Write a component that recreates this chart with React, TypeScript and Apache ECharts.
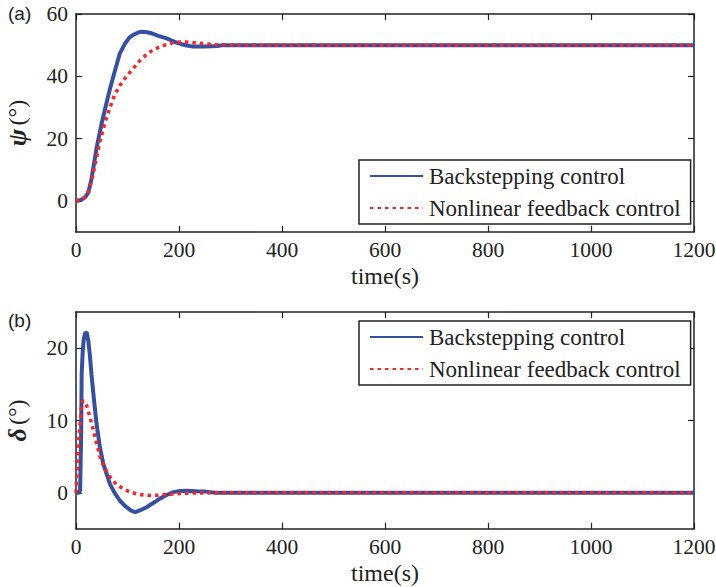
import React, { useEffect, useRef } from "react";
import * as echarts from "echarts";

const xTicks = [0, 200, 400, 600, 800, 1000, 1200];
const psiTicks = [0, 20, 40, 60];
const deltaTicks = [0, 10, 20];

const psiBackT = [0, 10, 18, 24, 30, 40, 50, 60, 66, 76, 85, 95, 104, 111, 120, 127, 135, 147, 160, 176, 186, 195, 205, 215, 225, 250, 275, 285, 300, 1200];
const psiBackV = [0, 0.3, 1.2, 2.7, 7, 17, 25, 32, 36, 42, 47.3, 50.5, 52.5, 53.3, 54, 54.3, 54.2, 53.8, 53, 52.2, 51.5, 50.8, 50.3, 49.9, 49.6, 49.6, 49.7, 50, 50, 50];

const psiNfT = [0, 10, 20, 27, 35, 47, 56, 66, 75, 85, 98, 111, 124, 137, 150, 163, 176, 189, 202, 215, 240, 270, 300, 1200];
const psiNfV = [0, 0.2, 1.5, 4.3, 10, 19.4, 25, 30, 34, 37, 40, 42.5, 45, 47, 48.5, 49.5, 50.2, 50.8, 51, 51, 50.6, 50.2, 50, 50];

const deltaBackT = [0, 5, 8, 10, 11, 13, 15, 17.5, 20.7, 24, 27, 30, 35, 40, 46, 53, 60, 66, 75, 85, 95, 102, 108, 115, 125, 137, 150, 163, 176, 189, 202, 215, 234, 250, 260, 270, 1200];
const deltaBackV = [0, 0, 0.3, 8, 16.4, 19.5, 21.2, 22, 22.2, 21, 19, 16.4, 12.8, 9.5, 6.5, 4, 2.5, 1.2, 0, -1.06, -1.8, -2.2, -2.5, -2.67, -2.4, -2, -1.4, -0.8, -0.3, 0.1, 0.25, 0.3, 0.23, 0.2, 0.1, 0, 0];

const deltaNfT = [0, 3, 6, 8, 10, 13, 17, 21, 27, 34, 40, 47, 55, 66, 78, 92, 105, 118, 131, 144, 160, 176, 195, 215, 240, 270, 1200];
const deltaNfV = [0, 4, 8, 9.5, 11.5, 12.7, 12.6, 12, 10.5, 8.6, 6.8, 4.9, 3.5, 2.2, 1.2, 0.55, 0.1, -0.14, -0.3, -0.37, -0.33, -0.23, -0.12, -0.05, -0.02, 0, 0];

const names = ["Backstepping control", "Nonlinear feedback control"];

const zip = (t: number[], v: number[]) => t.map((x, i) => [x, v[i]]);

const FONT = "Liberation Serif";
const BLUE = "#3550a2";
const RED = "#ff2222";

export default function App() {
  const ref = useRef<HTMLDivElement>(null);
  useEffect(() => {
    const chart = echarts.init(ref.current!, undefined, { renderer: "svg" });
    const axisLine = { show: true, onZero: false, lineStyle: { color: "#222", width: 1.5 } };
    const tickStyle = { inside: true, length: 6, lineStyle: { color: "#222", width: 1.2 } };
    const labelStyle = { fontFamily: FONT, fontSize: 21.5, color: "#222", formatter: (v: number) => String(v) };
    const xAxisFor = (gi: number) => [
      {
        type: "value", gridIndex: gi, min: 0, max: 1200, interval: 200, position: "bottom",
        axisLine, splitLine: { show: false },
        axisTick: { ...tickStyle, customValues: xTicks },
        axisLabel: { ...labelStyle, margin: 7, customValues: xTicks },
        name: "time(s)", nameLocation: "middle", nameGap: 32,
        nameTextStyle: { fontFamily: FONT, fontSize: 24, color: "#222" },
      },
      {
        type: "value", gridIndex: gi, min: 0, max: 1200, interval: 200, position: "top",
        axisLine, splitLine: { show: false },
        axisTick: { ...tickStyle, customValues: xTicks },
        axisLabel: { show: false },
      },
    ];
    const yAxisFor = (gi: number, min: number, max: number, ticks: number[], sym: string) => [
      {
        type: "value", gridIndex: gi, min, max, position: "left",
        axisLine, splitLine: { show: false },
        axisTick: { ...tickStyle, customValues: ticks },
        axisLabel: { ...labelStyle, margin: 8, customValues: ticks },
        name: `{g|${sym}} {n|(°)}`, nameLocation: "middle", nameGap: 46, nameRotate: 90,
        nameTextStyle: {
          rich: {
            g: { fontFamily: FONT, fontSize: 26, fontWeight: "bold", fontStyle: "italic", color: "#222" },
            n: { fontFamily: FONT, fontSize: 24, color: "#222" },
          },
        },
      },
      {
        type: "value", gridIndex: gi, min, max, position: "right",
        axisLine, splitLine: { show: false },
        axisTick: { ...tickStyle, customValues: ticks },
        axisLabel: { show: false },
      },
    ];
    const blueLine = { color: BLUE, width: 4 };
    const redLine = { color: RED, width: 3.5, type: [3.5, 4], cap: "butt" };
    const mk = (name: string, xi: number, yi: number, data: number[][], ls: any, color: string) => ({
      type: "line", name, xAxisIndex: xi, yAxisIndex: yi, data,
      showSymbol: false, symbol: "none", lineStyle: ls, itemStyle: { color }, color,
    });
    const legendFor = (top: number) => ({
      orient: "vertical", left: 359, top,
      data: names,
      itemWidth: 53, itemHeight: 14, itemGap: 6,
      padding: [3, 10, 3, 10],
      itemStyle: { opacity: 0 },
      borderColor: "#222", borderWidth: 1.5, borderRadius: 0, backgroundColor: "#fff",
      textStyle: { fontFamily: FONT, fontSize: 23, color: "#222", lineHeight: 26, padding: [0, 0, 0, 1] },
    });
    chart.setOption({
      animation: false,
      backgroundColor: "#fff",
      grid: [
        { left: 76, top: 14, width: 618, height: 218, outerBoundsMode: "none", containLabel: false },
        { left: 76, top: 312, width: 618, height: 217, outerBoundsMode: "none", containLabel: false },
      ],
      xAxis: [...xAxisFor(0), ...xAxisFor(1)],
      yAxis: [...yAxisFor(0, -10, 60, psiTicks, "ψ"), ...yAxisFor(1, -5, 25, deltaTicks, "δ")],
      legend: [legendFor(160), legendFor(321)],
      graphic: [
        { type: "text", left: 8, top: 4, style: { text: "(a)", fontFamily: "Liberation Sans", fontSize: 19, fill: "#222" } },
        { type: "text", left: 8, top: 311, style: { text: "(b)", fontFamily: "Liberation Sans", fontSize: 19, fill: "#222" } },
      ],
      series: [
        mk(names[0], 0, 0, zip(psiBackT, psiBackV), blueLine, BLUE),
        mk(names[1], 0, 0, zip(psiNfT, psiNfV), redLine, RED),
        mk(names[0], 2, 2, zip(deltaBackT, deltaBackV), blueLine, BLUE),
        mk(names[1], 2, 2, zip(deltaNfT, deltaNfV), redLine, RED),
      ],
    });
    return () => chart.dispose();
  }, []);
  return <div ref={ref} style={{ width: 716, height: 587, position: "absolute", left: 0, top: 0 }} />;
}
